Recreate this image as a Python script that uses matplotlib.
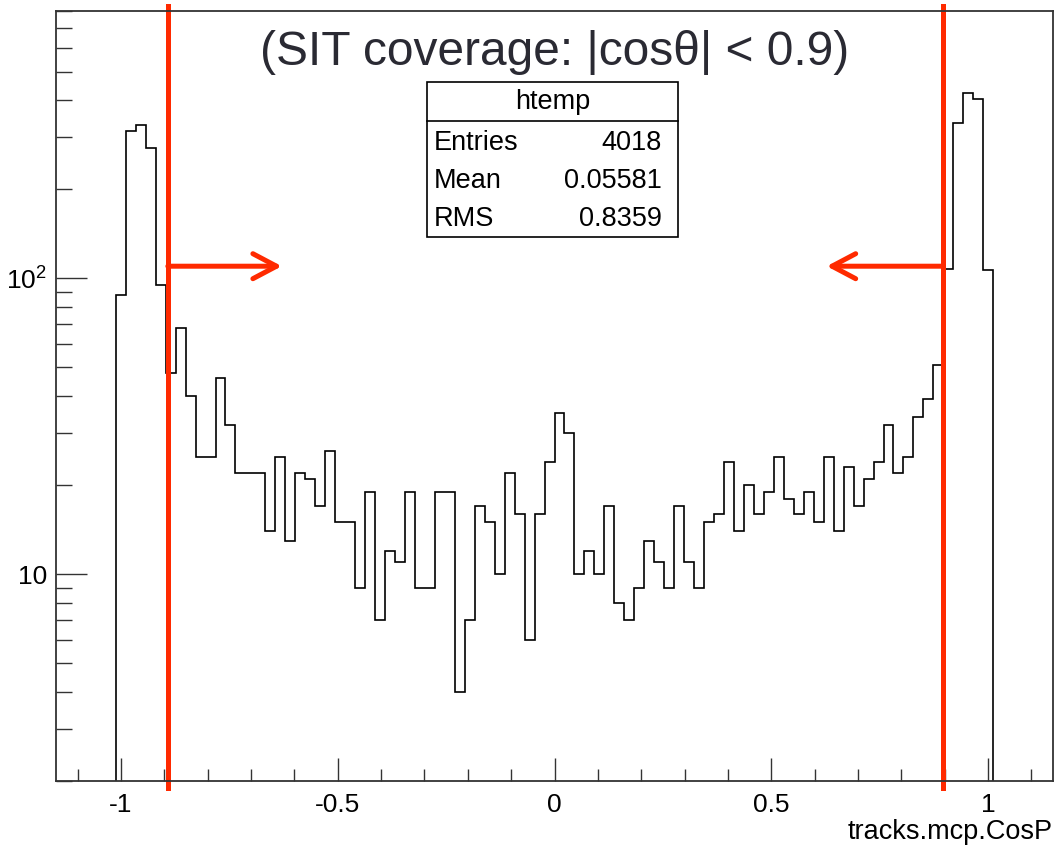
import numpy as np
import matplotlib.pyplot as plt
from matplotlib.patches import Rectangle
from matplotlib.lines import Line2D
from matplotlib.ticker import FixedLocator, LogLocator, FuncFormatter, NullFormatter

plt.rcParams['font.family'] = ['Liberation Sans', 'DejaVu Sans']
plt.rcParams['mathtext.fontset'] = 'custom'
plt.rcParams['mathtext.rm'] = 'Liberation Sans'

# histogram binning (ROOT htemp, 100 bins)
x_lo, x_hi, n_bins = -1.15, 1.15, 100

# bin contents, bins 0..99
counts = [0, 0, 0, 0, 0, 0,
          88, 314, 329, 276, 95, 48, 68, 40,
          25, 25, 46, 32, 22, 22, 22, 14,
          25, 13, 22, 21, 17, 26, 15, 15,
          9, 19, 7, 12, 11, 19, 9, 9,
          19, 19, 4, 7, 17, 15, 10, 22,
          16, 6, 16, 24, 35, 30, 10, 12,
          10, 17, 8, 7, 9, 13, 11, 9,
          17, 11, 9, 15, 16, 24, 14, 20,
          16, 19, 25, 18, 16, 19, 15, 25,
          14, 23, 17, 21, 24, 32, 22, 25,
          34, 39, 51, 108, 335, 424, 405, 107,
          0, 0, 0, 0, 0, 0]

stats_names = ["Entries", "Mean", "RMS"]
stats_values = ["4018", "0.05581", "0.8359"]

cut_lines = [-0.892, 0.897]     # drawn SIT acceptance limits
arrow_tips = [-0.629, 0.628]
arrow_y = 110

title = "(SIT coverage: |cosθ| < 0.9)"
red = '#ff2a00'
frame = '#333333'

W, H = 1056, 850
fig = plt.figure(figsize=(W / 100, H / 100), dpi=100)
ax = fig.add_axes([56 / W, (H - 781) / H, (1053 - 56) / W, (781 - 11) / H])

edges = np.linspace(x_lo, x_hi, n_bins + 1)
vals = np.array(counts, dtype=float)
vals[vals == 0] = 1e-3
ax.stairs(vals, edges, color='black', lw=1.2, baseline=1e-3)

ax.set_yscale('log')
ax.set_xlim(x_lo, x_hi)
ax.set_ylim(2.0, 802)

# axes ticks, ROOT style (inside)
ax.xaxis.set_major_locator(FixedLocator([-1, -0.5, 0, 0.5, 1]))
ax.xaxis.set_minor_locator(FixedLocator(np.round(np.arange(-1.1, 1.11, 0.1), 2)))
ax.xaxis.set_major_formatter(FuncFormatter(lambda v, p: f"{v:g}"))
ax.yaxis.set_major_locator(FixedLocator([10, 100]))
ax.yaxis.set_minor_locator(LogLocator(base=10, subs=np.arange(2, 10)))
ax.yaxis.set_major_formatter(FuncFormatter(lambda v, p: "10" if v < 50 else r"$\mathregular{10^{2}}$"))
ax.yaxis.set_minor_formatter(NullFormatter())
ax.tick_params(axis='x', which='major', direction='in', length=16.5, width=1.0,
               color=frame, labelsize=19, pad=9)
ax.tick_params(axis='x', which='minor', direction='in', length=8.6, width=1.0, color=frame)
ax.tick_params(axis='y', which='major', direction='in', length=22, width=1.0,
               color=frame, labelsize=19, pad=6.5)
ax.tick_params(axis='y', which='minor', direction='in', length=11.5, width=1.0, color=frame)
for s in ax.spines.values():
    s.set_color(frame)
    s.set_linewidth(1.3)

ax.text(1.0, -0.066, "tracks.mcp.CosP", transform=ax.transAxes, ha='right', va='center',
        fontsize=19.5)

# cut lines and arrows
for cx, tip in zip(cut_lines, arrow_tips):
    ax.axvline(cx, ymin=-0.009, ymax=1.006, color=red, lw=3.6, clip_on=False)
    ax.annotate('', xy=(tip, arrow_y), xytext=(cx, arrow_y),
                arrowprops=dict(arrowstyle='->,head_length=0.85,head_width=0.45',
                                color=red, lw=3.6, mutation_scale=20,
                                shrinkA=0, shrinkB=0, capstyle='round'))

fig.text(555 / W, 1 - 65 / H, title, ha='center', va='baseline', fontsize=34.5,
         color='#2a2a33')

# stats box
bx0, bx1, by0, by1, bsep = 427, 678, 82, 237, 121
fig.add_artist(Rectangle((bx0 / W, 1 - by1 / H), (bx1 - bx0) / W, (by1 - by0) / H,
                         transform=fig.transFigure, fill=True, facecolor='white',
                         edgecolor='black', lw=1.2))
fig.add_artist(Line2D([bx0 / W, bx1 / W], [1 - bsep / H, 1 - bsep / H],
                      transform=fig.transFigure, color='black', lw=1.2))
fig.text((bx0 + bx1) / 2 / W, 1 - 109 / H, "htemp", ha='center', va='baseline', fontsize=19.5)
for i, (name, val) in enumerate(zip(stats_names, stats_values)):
    yb = 1 - (150 + 38 * i) / H
    fig.text(434 / W, yb, name, ha='left', va='baseline', fontsize=19.5)
    fig.text(662 / W, yb, val, ha='right', va='baseline', fontsize=19.5)

fig.savefig("out.png", dpi=100)
